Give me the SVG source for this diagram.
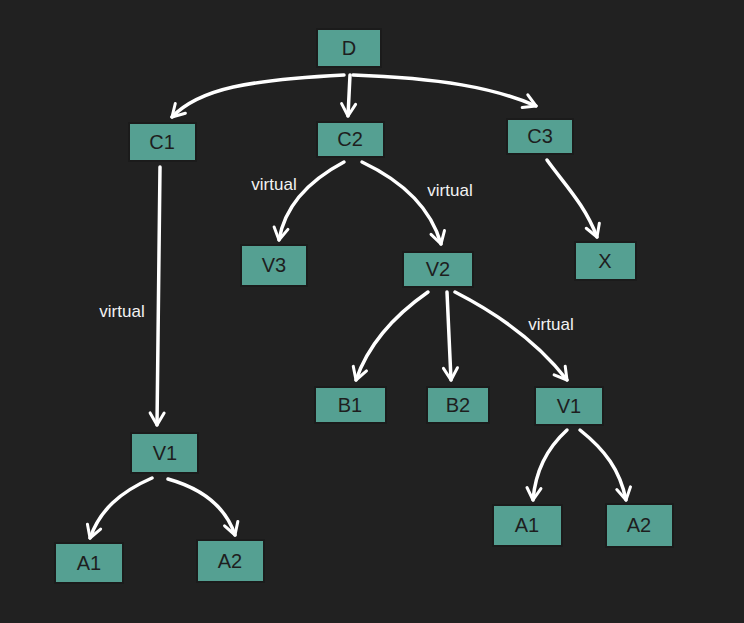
<svg xmlns="http://www.w3.org/2000/svg" width="744" height="623" viewBox="0 0 744 623">
  <defs>
    <marker id="arrow" viewBox="0 0 20 20" refX="16" refY="10" markerWidth="20" markerHeight="20" markerUnits="userSpaceOnUse" orient="auto">
      <path d="M4,3 L16,10 L4,17" fill="none" stroke="#ffffff" stroke-width="3" stroke-linecap="round" stroke-linejoin="round"/>
    </marker>
  </defs>
  <style>
    .node rect { fill: #55a092; stroke: #1b1b1b; stroke-width: 2; }
    .node text { font-family: "Liberation Sans", "DejaVu Sans", sans-serif; font-size: 20px; fill: #1e1e1e; text-anchor: middle; dominant-baseline: central; }
    .edge { fill: none; stroke: #ffffff; stroke-width: 3.5; stroke-linecap: round; marker-end: url(#arrow); }
    .label { font-family: "Liberation Sans", "DejaVu Sans", sans-serif; font-size: 17px; fill: #f2f2f2; text-anchor: middle; dominant-baseline: central; }
  </style>
  <rect x="0" y="0" width="744" height="623" fill="#212121"/>

  <!-- connectors -->
  <g id="connectors">
    <path class="edge" d="M344,75 C250,80 200,88 172,117"/>
    <path class="edge" d="M350,75 L348,116"/>
    <path class="edge" d="M353,75 C440,78 495,88 536,106"/>
    <path class="edge" d="M160,167 L157,425"/>
    <path class="edge" d="M344,162 C310,180 285,205 279,240"/>
    <path class="edge" d="M362,162 C400,180 430,205 441,244"/>
    <path class="edge" d="M547,160 C565,185 585,205 597,237"/>
    <path class="edge" d="M428,292 C395,315 368,345 356,380"/>
    <path class="edge" d="M447,292 L451,380"/>
    <path class="edge" d="M455,292 C500,315 540,345 567,380"/>
    <path class="edge" d="M152,478 C120,492 100,510 90,538"/>
    <path class="edge" d="M168,479 C200,488 225,505 235,535"/>
    <path class="edge" d="M567,430 C545,450 535,475 533,500"/>
    <path class="edge" d="M580,430 C605,450 620,470 626,500"/>
    <text class="label" x="122" y="311">virtual</text>
    <text class="label" x="274" y="184">virtual</text>
    <text class="label" x="450" y="190">virtual</text>
    <text class="label" x="551" y="324">virtual</text>
  </g>

  <!-- nodes -->
  <g id="node-D" class="node"><rect x="317" y="29" width="64" height="38"/><text x="349" y="48">D</text></g>
  <g id="node-C1" class="node"><rect x="129" y="123" width="67" height="38"/><text x="162" y="142">C1</text></g>
  <g id="node-C2" class="node"><rect x="317" y="122" width="67" height="35"/><text x="350" y="139">C2</text></g>
  <g id="node-C3" class="node"><rect x="507" y="119" width="66" height="35"/><text x="540" y="136">C3</text></g>
  <g id="node-V3" class="node"><rect x="241" y="245" width="66" height="41"/><text x="274" y="265">V3</text></g>
  <g id="node-V2" class="node"><rect x="403" y="252" width="70" height="35"/><text x="438" y="269">V2</text></g>
  <g id="node-X" class="node"><rect x="575" y="242" width="61" height="38"/><text x="605" y="261">X</text></g>
  <g id="node-B1" class="node"><rect x="315" y="387" width="71" height="36"/><text x="350" y="405">B1</text></g>
  <g id="node-B2" class="node"><rect x="427" y="387" width="62" height="36"/><text x="458" y="405">B2</text></g>
  <g id="node-V1b" class="node"><rect x="535" y="387" width="68" height="38"/><text x="569" y="406">V1</text></g>
  <g id="node-V1a" class="node"><rect x="131" y="433" width="67" height="40"/><text x="165" y="453">V1</text></g>
  <g id="node-A1a" class="node"><rect x="55" y="543" width="68" height="40"/><text x="89" y="563">A1</text></g>
  <g id="node-A2a" class="node"><rect x="197" y="540" width="67" height="42"/><text x="230" y="561">A2</text></g>
  <g id="node-A1b" class="node"><rect x="493" y="505" width="69" height="41"/><text x="527" y="525">A1</text></g>
  <g id="node-A2b" class="node"><rect x="606" y="504" width="67" height="43"/><text x="639" y="525">A2</text></g>
</svg>
